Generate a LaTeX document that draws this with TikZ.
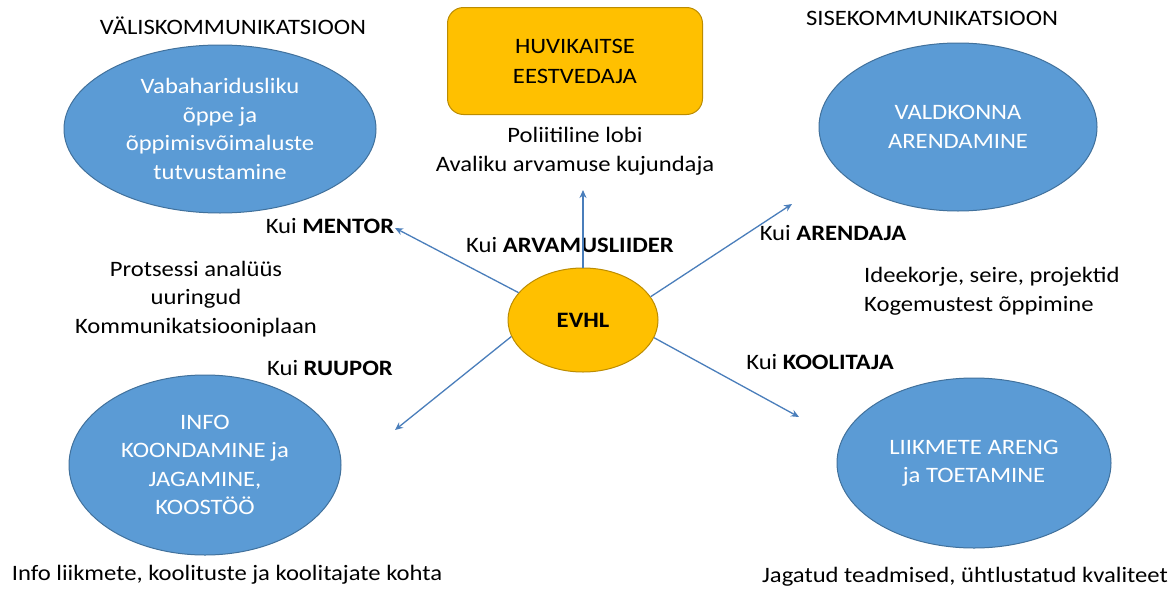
\documentclass[tikz,border=0pt]{standalone}
\usepackage{fontspec}
\setmainfont{Carlito}[FakeStretch=1.12]
\usetikzlibrary{shapes.geometric,arrows.meta}
\definecolor{blueF}{HTML}{5B9BD5}
\definecolor{blueD}{HTML}{41719C}
\definecolor{goldF}{HTML}{FFC000}
\definecolor{goldD}{HTML}{BC8C00}
\definecolor{arrowC}{HTML}{4A7EBB}
\tikzset{
  txt/.style={font=\fontsize{22}{28.5}\selectfont, inner sep=0pt, align=center, text=black},
  bluell/.style={ellipse, draw=blueD, fill=blueF, line width=1pt, inner sep=0pt, text=white, align=center, font=\fontsize{22}{28.5}\selectfont},
  conn/.style={draw=arrowC, line width=1.3pt, -{Stealth[length=8pt,width=7pt]}},
}
\begin{document}
\begin{tikzpicture}[x=1pt,y=-1pt]
\useasboundingbox (0,0) rectangle (1172,589);
\fill[white] (0,0) rectangle (1172,589);

% ellipses
\node[bluell, minimum width=312, minimum height=168] (tl) at (220,129) {Vabaharidusliku\\õppe ja\\õppimisvõimaluste\\tutvustamine};
\node[bluell, minimum width=278, minimum height=168] (tr) at (958,127) {VALDKONNA\\ARENDAMINE};
\node[bluell, minimum width=272, minimum height=180] (bl) at (205,465) {INFO\\KOONDAMINE ja\\JAGAMINE,\\KOOSTÖÖ};
\node[bluell, minimum width=274, minimum height=170] (br) at (974,463) {LIIKMETE ARENG\\ja TOETAMINE};

% gold box
\node[draw=goldD, fill=goldF, line width=1pt, rounded corners=16pt, minimum width=255, minimum height=107, inner sep=0pt, align=center, font=\fontsize{22}{30}\selectfont] (hk) at (575,61) {HUVIKAITSE\\EESTVEDAJA};

% EVHL
\node[ellipse, draw=goldD, fill=goldF, line width=1pt, minimum width=150, minimum height=104, inner sep=0pt, font=\fontsize{22}{25}\selectfont\bfseries] (evhl) at (583,320) {EVHL};

% headings and labels
\node[txt] (vk) at (233,26) {VÄLISKOMMUNIKATSIOON};
\node[txt] (sk) at (932,18) {SISEKOMMUNIKATSIOON};
\node[txt] (pl) at (575,151) {Poliitiline lobi\\Avaliku arvamuse kujundaja};
\node[txt] (lmentor) at (330,226) {Kui \textbf{MENTOR}};
\node[txt] (larv) at (570,245) {Kui \textbf{ARVAMUSLIIDER}};
\node[txt] (laren) at (833,233) {Kui \textbf{ARENDAJA}};
\node[txt, anchor=west, align=left] (ide) at (864,291) {Ideekorje, seire, projektid\\Kogemustest õppimine};
\node[txt] (prot) at (196,299) {Protsessi analüüs\\uuringud\\Kommunikatsiooniplaan};
\node[txt] (lruup) at (330,368) {Kui \textbf{RUUPOR}};
\node[txt] (lkool) at (820,362) {Kui \textbf{KOOLITAJA}};
\node[txt] (infol) at (227,575) {Info liikmete, koolituste ja koolitajate kohta};
\node[txt] (jag) at (965,577) {Jagatud teadmised, ühtlustatud kvaliteet};

% arrow end points
\coordinate (eN) at (583,190);
\coordinate (eNE) at (792,204);
\coordinate (eNW) at (395,228);
\coordinate (eSW) at (395,430);
\coordinate (eSE) at (799,417);

\draw[conn] (evhl.north) -- (eN);
\draw[conn] (evhl.19) -- (eNE);
\draw[conn] (evhl.157) -- (eNW);
\draw[conn] (evhl.193) -- (eSW);
\draw[conn] (evhl.346) -- (eSE);
\end{tikzpicture}
\end{document}
